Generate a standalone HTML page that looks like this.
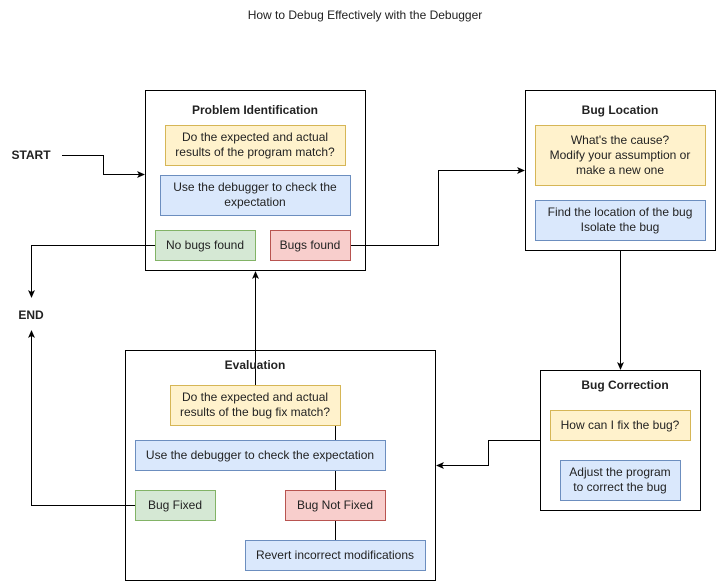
<!DOCTYPE html>
<html><head><style>
body{margin:0;background:#fff;}
svg{display:block;font-family:"Liberation Sans",Arial,sans-serif;}
text{font-size:12px;fill:#222;text-anchor:middle;}
.t{font-weight:bold;}
</style></head><body>
<svg width="716" height="582" viewBox="0 0 716 582">
<defs><marker id="a" markerWidth="8" markerHeight="8" refX="7" refY="4" orient="auto" markerUnits="userSpaceOnUse"><path d="M0,0.5 L8,4 L0,7.5 L2,4z" fill="#000"/></marker></defs>
<rect width="716" height="582" fill="#fff"/>
<text x="365" y="19">How to Debug Effectively with the Debugger</text>
<g fill="none" stroke="#000" stroke-width="1">
<rect x="145.5" y="90.5" width="220" height="180"/>
<rect x="525.5" y="90.5" width="190" height="160"/>
<rect x="540.5" y="370.5" width="160" height="140"/>
<rect x="125.5" y="350.5" width="310" height="230"/>
<path d="M62,155.5H103.5V174.5H144" marker-end="url(#a)"/>
<path d="M350,245.5H438.5V170.5H524" marker-end="url(#a)"/>
<path d="M155,245.5H31.5V297" marker-end="url(#a)"/>
<path d="M135,505.5H31.5V331" marker-end="url(#a)"/>
<path d="M620.5,250V369" marker-end="url(#a)"/>
<path d="M540,440.5H488.5V465.5H437" marker-end="url(#a)"/>
<path d="M255.5,385V272" marker-end="url(#a)"/>
<path d="M335.5,425V440M335.5,470V490M335.5,520V540"/>
</g>
<rect x="165.5" y="125.5" width="180" height="40" fill="#fff2cc" stroke="#d6b656"/>
<rect x="160.5" y="175.5" width="190" height="40" fill="#dae8fc" stroke="#6c8ebf"/>
<rect x="155.5" y="230.5" width="100" height="30" fill="#d5e8d4" stroke="#82b366"/>
<rect x="270.5" y="230.5" width="80" height="30" fill="#f8cecc" stroke="#b85450"/>
<rect x="535.5" y="125.5" width="170" height="60" fill="#fff2cc" stroke="#d6b656"/>
<rect x="535.5" y="200.5" width="170" height="40" fill="#dae8fc" stroke="#6c8ebf"/>
<rect x="550.5" y="410.5" width="140" height="30" fill="#fff2cc" stroke="#d6b656"/>
<rect x="560.5" y="460.5" width="120" height="40" fill="#dae8fc" stroke="#6c8ebf"/>
<rect x="170.5" y="385.5" width="170" height="40" fill="#fff2cc" stroke="#d6b656"/>
<rect x="135.5" y="440.5" width="250" height="30" fill="#dae8fc" stroke="#6c8ebf"/>
<rect x="135.5" y="490.5" width="80" height="30" fill="#d5e8d4" stroke="#82b366"/>
<rect x="285.5" y="490.5" width="100" height="30" fill="#f8cecc" stroke="#b85450"/>
<rect x="245.5" y="540.5" width="180" height="30" fill="#dae8fc" stroke="#6c8ebf"/>
<text x="31" y="159" class="t">START</text>
<text x="31" y="319" class="t">END</text>
<text x="255" y="114" class="t">Problem Identification</text>
<text x="255" y="141">Do the expected and actual</text>
<text x="255" y="156">results of the program match?</text>
<text x="255" y="191">Use the debugger to check the</text>
<text x="255" y="206">expectation</text>
<text x="205" y="249">No bugs found</text>
<text x="310" y="249">Bugs found</text>
<text x="620" y="114" class="t">Bug Location</text>
<text x="620" y="144">What's the cause?</text>
<text x="620" y="159">Modify your assumption or</text>
<text x="620" y="174">make a new one</text>
<text x="620" y="216">Find the location of the bug</text>
<text x="620" y="231">Isolate the bug</text>
<text x="625" y="389" class="t">Bug Correction</text>
<text x="620" y="429">How can I fix the bug?</text>
<text x="620" y="476">Adjust the program</text>
<text x="620" y="491">to correct the bug</text>
<text x="255" y="369" class="t">Evaluation</text>
<text x="255" y="401">Do the expected and actual</text>
<text x="255" y="416">results of the bug fix match?</text>
<text x="260" y="459">Use the debugger to check the expectation</text>
<text x="175" y="509">Bug Fixed</text>
<text x="335" y="509">Bug Not Fixed</text>
<text x="335" y="559">Revert incorrect modifications</text>
</svg>
</body></html>
